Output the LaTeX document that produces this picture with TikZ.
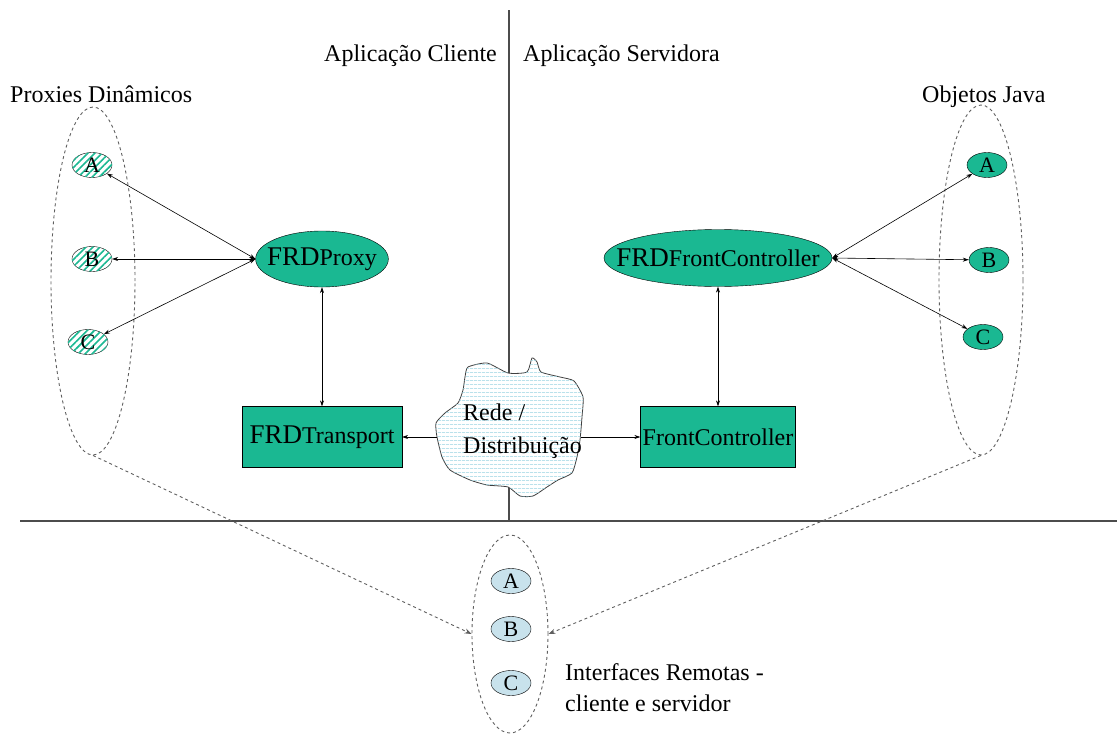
\documentclass[tikz,border=0pt]{standalone}
\usepackage{fontspec}
\setmainfont{Liberation Serif}
\usetikzlibrary{arrows.meta,patterns,patterns.meta,shapes.geometric}
\definecolor{tealg}{RGB}{26,184,146}
\definecolor{ltblue}{RGB}{200,226,236}
\definecolor{dashgray}{RGB}{95,95,95}
\definecolor{wave}{RGB}{150,210,225}
\newcommand{\frd}{{\fontsize{27}{28}\selectfont FRD}}
\begin{document}
\begin{tikzpicture}[x=1pt,y=-1pt,
  font=\fontsize{24}{26}\selectfont,
  bigell/.style={ellipse, draw, fill=tealg, inner ysep=0pt},
  smallell/.style={ellipse, draw, minimum width=40pt, minimum height=25pt, inner sep=0pt, font=\fontsize{22}{22}\selectfont},
  obj/.style={smallell, fill=tealg},
  hatched/.style={smallell, fill=white, postaction={pattern={Lines[angle=45,distance=5pt,line width=1.6pt]}, pattern color=tealg}},
  iface/.style={smallell, fill=ltblue},
  box/.style={draw, fill=tealg, minimum height=61pt, inner sep=0pt},
  link/.style={{Stealth[length=6pt,width=4pt]}-{Stealth[length=6pt,width=4pt]}, line width=0.6pt},
  one/.style={-{Stealth[length=6pt,width=4pt]}, line width=0.6pt},
  grp/.style={ellipse, draw=dashgray, dash pattern=on 3pt off 3pt, line width=0.9pt, inner sep=0pt},
  dasharrow/.style={draw=dashgray, dash pattern=on 3pt off 3pt, line width=0.9pt, -{Stealth[length=7pt,width=5pt]}},
  divider/.style={draw=black!70, line width=1.3pt},
  lbl/.style={inner sep=0pt}
]
\useasboundingbox (0,0) rectangle (1117,736);

% dividers
\coordinate (vtop) at (509,10);
\coordinate (vbot) at (509,521);
\coordinate (hleft) at (20,521);
\coordinate (hright) at (1117,521);
\draw[divider] (vtop) -- (vbot);
\draw[divider] (hleft) -- (hright);

% titles
\node[lbl, anchor=base east] (cli) at (497,61) {Aplicação Cliente};
\node[lbl, anchor=base west] (srv) at (523,61) {Aplicação Servidora};
\node[lbl, anchor=base west] (pdin) at (10,102) {Proxies Dinâmicos};
\node[lbl, anchor=base west] (ojava) at (922,102) {Objetos Java};

% groups
\node[grp, minimum width=84pt, minimum height=348pt] (gl) at (93,281) {};
\node[grp, minimum width=84pt, minimum height=350pt] (gr) at (981,280) {};
\node[grp, minimum width=76pt, minimum height=198pt] (gi) at (510,634) {};

% left proxies
\node[hatched] (la) at (92,165) {A};
\node[hatched] (lb) at (92,259) {B};
\node[hatched] (lc) at (88,342) {C};

% right objects
\node[obj] (ra) at (987,165) {A};
\node[obj] (rb) at (989,260) {B};
\node[obj] (rc) at (983,337) {C};

% interfaces
\node[iface] (ia) at (511,581) {A};
\node[iface] (ib) at (511,629) {B};
\node[iface] (ic) at (511,683) {C};

% main nodes
\node[bigell, inner xsep=-8pt, minimum width=132pt, minimum height=56pt] (proxy) at (322,259) {\frd Proxy};
\node[bigell, inner xsep=-23pt, minimum width=228pt, minimum height=57pt] (fcon) at (718,258) {\frd FrontController};
\node[box, minimum width=160pt] (trans) at (322,437) {\frd Transport};
\node[box, minimum width=155pt] (fbox) at (718,437) {FrontController};

% cloud
\path[fill=white, draw=black!75, line width=0.8pt,
      postaction={pattern={Lines[angle=0,distance=4pt,line width=0.7pt]}, pattern color=wave}]
  plot[smooth cycle, tension=0.35] coordinates {
   (468,367) (487,363) (508,373) (527,372) (532,358) (537,362) (541,372)
   (560,377) (574,381) (583,397) (582,417) (580,440) (577,457) (572,473)
   (558,480) (547,487) (533,496) (520,496) (508,487) (487,485) (470,480)
   (450,470) (442,457) (437,437) (436,423) (445,413) (458,403) (463,390) (465,377)};
\node[lbl, anchor=base west, align=left, font=\fontsize{24}{33}\selectfont] (net) at (463,453) {Rede /\\Distribuição};
\coordinate (netL) at (437,437);
\coordinate (netR) at (581,437);

% connectors
\draw[link] (proxy.west) -- (la);
\draw[link] (proxy.west) -- (lb);
\draw[link] (proxy.west) -- (lc);
\draw[link] (fcon.east) -- (ra);
\draw[link] (fcon.east) -- (rb);
\draw[link] (fcon.east) -- (rc);
\draw[link] (proxy.south) -- (trans.north);
\draw[link] (fcon.south) -- (fbox.north);
\draw[one] (netL) -- (trans.east);
\draw[one] (netR) -- (fbox.west);

\draw[dasharrow] (gl.south) -- (gi.west);
\draw[dasharrow] (gr.south) -- (gi.east);

% bottom label
\node[lbl, anchor=base west, align=left, font=\fontsize{24}{31}\selectfont] (irem) at (565,711) {Interfaces Remotas -\\cliente e servidor};
\end{tikzpicture}
\end{document}
